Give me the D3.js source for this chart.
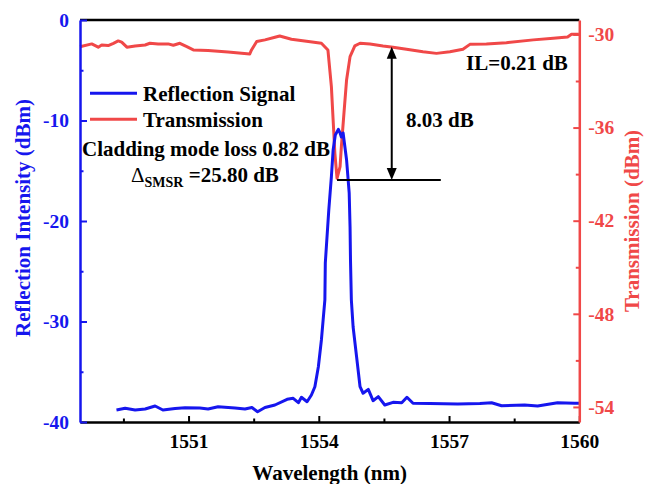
<!DOCTYPE html>
<html><head><meta charset="utf-8">
<script src="https://cdn.jsdelivr.net/npm/d3@7"></script>
<style>
html,body{margin:0;padding:0;background:#fff;}
text{font-family:"Liberation Serif","Times New Roman",serif;font-weight:bold;}
</style></head>
<body>
<svg id="chart" width="655" height="484"></svg>
<script>
// ---- data ----
const reflWavelength = [1549.34,1549.54,1549.77,1550.00,1550.23,1550.41,1550.69,1550.92,1551.26,1551.45,1551.68,1552.07,1552.30,1552.46,1552.59,1552.76,1552.99,1553.27,1553.41,1553.53,1553.60,1553.73,1553.83,1553.91,1553.99,1554.06,1554.10,1554.14,1554.15,1554.18,1554.23,1554.29,1554.33,1554.38,1554.45,1554.49,1554.52,1554.56,1554.64,1554.70,1554.72,1554.73,1554.75,1554.79,1554.87,1554.95,1555.02,1555.14,1555.25,1555.37,1555.52,1555.71,1555.91,1556.03,1556.17,1556.56,1557.20,1557.71,1557.98,1558.21,1558.74,1559.04,1559.50,1559.89,1560.00];
const reflValues = [-38.81,-38.64,-38.81,-38.71,-38.41,-38.81,-38.66,-38.58,-38.61,-38.71,-38.48,-38.61,-38.71,-38.56,-38.98,-38.56,-38.31,-37.74,-37.64,-38.08,-37.54,-37.98,-37.31,-36.49,-34.50,-31.84,-29.85,-27.86,-24.18,-22.19,-18.91,-15.59,-12.94,-11.44,-10.88,-11.24,-11.64,-11.24,-13.93,-17.21,-20.60,-23.88,-27.86,-30.52,-33.50,-36.49,-37.14,-36.75,-37.88,-37.48,-38.31,-38.04,-38.08,-37.54,-38.14,-38.16,-38.21,-38.16,-38.08,-38.38,-38.31,-38.41,-38.08,-38.14,-38.14];

const transWavelength = [1548.50,1548.77,1548.92,1549.00,1549.15,1549.27,1549.38,1549.46,1549.58,1549.77,1550.00,1550.11,1550.30,1550.53,1550.65,1550.80,1550.96,1551.11,1551.45,1551.91,1552.41,1552.45,1552.57,1552.76,1552.99,1553.10,1553.37,1553.76,1554.06,1554.21,1554.29,1554.33,1554.37,1554.42,1554.49,1554.52,1554.58,1554.64,1554.72,1554.83,1554.95,1555.18,1555.48,1555.71,1556.02,1556.40,1556.71,1557.02,1557.32,1557.48,1557.86,1558.32,1558.94,1559.40,1559.73,1559.82,1559.99];
const transValues = [-30.79,-30.61,-30.82,-30.68,-30.72,-30.57,-30.42,-30.50,-30.82,-30.74,-30.68,-30.57,-30.61,-30.61,-30.70,-30.57,-30.79,-31.00,-31.04,-31.13,-31.26,-31.00,-30.46,-30.35,-30.18,-30.10,-30.31,-30.46,-30.57,-31.00,-33.36,-35.51,-37.64,-39.27,-38.52,-37.23,-35.06,-32.93,-31.43,-30.74,-30.57,-30.61,-30.74,-30.82,-30.95,-31.11,-31.22,-31.11,-30.95,-30.64,-30.61,-30.53,-30.35,-30.24,-30.16,-29.99,-29.99];

const xTicks = [1551,1554,1557,1560];
const xMinorTicks = [1549.5,1552.5,1555.5,1558.5];
const leftTicks = [0,-10,-20,-30,-40];
const leftMinorTicks = [-5,-15,-25,-35];
const rightTicks = [-30,-36,-42,-48,-54];
const rightMinorTicks = [-33,-39,-45,-51];

const seriesNames = ["Reflection Signal","Transmission"];
const annotIL = "IL=0.21 dB";
const annotDepth = "8.03 dB";
const annotCladding = "Cladding mode loss 0.82 dB";
const annotSMSR = "=25.80 dB";

// ---- layout ----
const BLUE = "#1616EE", RED = "#F04848";
const L = 80, R = 579.3, T = 20, B = 422;
const svg = d3.select("#chart");
const fmt = d => String(d);

const x = d3.scaleLinear().domain([1548.5,1560]).range([L,R]);
const yL = d3.scaleLinear().domain([-40,0]).range([B,T]);
const yR = d3.scaleLinear().domain([-54.97,-29.07]).range([B,T]);

// lines
const reflData = reflWavelength.map((w,i)=>[w,reflValues[i]]);
const transData = transWavelength.map((w,i)=>[w,transValues[i]]);

svg.append("path").datum(transData)
  .attr("d", d3.line().x(d=>x(d[0])).y(d=>yR(d[1])))
  .attr("fill","none").attr("stroke",RED).attr("stroke-width",3).attr("stroke-linejoin","round");
svg.append("path").datum(reflData)
  .attr("d", d3.line().x(d=>x(d[0])).y(d=>yL(d[1])))
  .attr("fill","none").attr("stroke",BLUE).attr("stroke-width",3).attr("stroke-linejoin","round");

// top border
svg.append("line").attr("x1",L).attr("x2",R).attr("y1",T).attr("y2",T)
  .attr("stroke","#000").attr("stroke-width",2.5);

function styleAxis(g, color, fs){
  g.select(".domain").attr("stroke",color).attr("stroke-width",2.5);
  g.selectAll(".tick line").attr("stroke",color).attr("stroke-width",2);
  g.selectAll(".tick text").attr("fill",color).attr("font-size",fs)
    .attr("font-family",'"Liberation Serif","Times New Roman",serif').attr("font-weight","bold");
}

// bottom axis
const gx = svg.append("g").attr("transform",`translate(0,${B})`)
  .call(d3.axisBottom(x).tickValues(xTicks).tickSize(-6).tickSizeOuter(0).tickFormat(fmt));
styleAxis(gx,"#000","19.5px");
gx.selectAll(".tick text").attr("dy","0").attr("y",25.5);
const gxm = svg.append("g").attr("transform",`translate(0,${B})`)
  .call(d3.axisBottom(x).tickValues(xMinorTicks).tickSize(-3.5).tickFormat(""));
gxm.select(".domain").remove();
gxm.selectAll(".tick line").attr("stroke","#000").attr("stroke-width",2);

// left axis
const gl = svg.append("g").attr("transform",`translate(${L},0)`)
  .call(d3.axisLeft(yL).tickValues(leftTicks).tickSize(-7).tickPadding(11).tickSizeOuter(0).tickFormat(fmt));
styleAxis(gl,BLUE,"19.5px");
const glm = svg.append("g").attr("transform",`translate(${L},0)`)
  .call(d3.axisLeft(yL).tickValues(leftMinorTicks).tickSize(-3.5).tickFormat(""));
glm.select(".domain").remove();
glm.selectAll(".tick line").attr("stroke",BLUE).attr("stroke-width",2);

// right axis
const gr = svg.append("g").attr("transform",`translate(${R},0)`)
  .call(d3.axisRight(yR).tickValues(rightTicks).tickSize(-6).tickPadding(9).tickSizeOuter(0).tickFormat(fmt));
styleAxis(gr,RED,"19.5px");
const grm = svg.append("g").attr("transform",`translate(${R},0)`)
  .call(d3.axisRight(yR).tickValues(rightMinorTicks).tickSize(-3.5).tickFormat(""));
grm.select(".domain").remove();
grm.selectAll(".tick line").attr("stroke",RED).attr("stroke-width",2);

// axis titles
svg.append("text").attr("x",(L+R)/2).attr("y",480).attr("text-anchor","middle")
  .attr("font-size","21px").attr("fill","#000").text("Wavelength (nm)");
svg.append("text").attr("transform","translate(30,218) rotate(-90)").attr("text-anchor","middle")
  .attr("font-size","21px").attr("fill",BLUE).text("Reflection Intensity (dBm)");
svg.append("text").attr("transform","translate(639,221) rotate(-90)").attr("text-anchor","middle")
  .attr("font-size","21px").attr("fill",RED).text("Transmission (dBm)");

// legend
const legendY = [93.3,119.3];
[BLUE,RED].forEach((c,i)=>{
  svg.append("line").attr("x1",90).attr("x2",137).attr("y1",legendY[i]).attr("y2",legendY[i])
    .attr("stroke",c).attr("stroke-width",3);
  svg.append("text").attr("x",143).attr("y",legendY[i]+8).attr("font-size","21px")
    .attr("fill","#000").text(seriesNames[i]);
});

// annotations
svg.append("text").attr("x",82).attr("y",155.5).attr("font-size","21px").text(annotCladding);
const smsr = svg.append("text").attr("x",131).attr("y",181.5).attr("font-size","21px");
smsr.append("tspan").attr("font-weight","normal").text("\u0394");
smsr.append("tspan").attr("font-size","14px").attr("dy",5).text("SMSR");
smsr.append("tspan").attr("dy",-5).text(" " + annotSMSR);

svg.append("text").attr("x",466).attr("y",70).attr("font-size","21px").text(annotIL);
svg.append("text").attr("x",406).attr("y",127).attr("font-size","21px").text(annotDepth);

// horizontal line at dip minimum and double arrow
const dipY = 180;
svg.append("line").attr("x1",x(1554.42)).attr("x2",x(1556.81)).attr("y1",dipY).attr("y2",dipY)
  .attr("stroke","#000").attr("stroke-width",2);
const ax = x(1555.68), topY = yR(-30.79);
svg.append("line").attr("x1",ax).attr("x2",ax).attr("y1",topY+8).attr("y2",dipY-8)
  .attr("stroke","#000").attr("stroke-width",2);
svg.append("path").attr("d",`M${ax},${topY} L${ax-5},${topY+12} L${ax+5},${topY+12} Z`).attr("fill","#000");
svg.append("path").attr("d",`M${ax},${dipY} L${ax-5},${dipY-12} L${ax+5},${dipY-12} Z`).attr("fill","#000");
</script>
</body></html>
